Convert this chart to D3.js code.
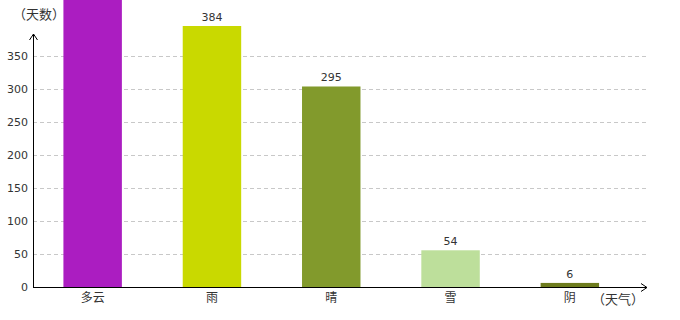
<!DOCTYPE html>
<html><head><meta charset="utf-8">
<script src="https://cdn.jsdelivr.net/npm/d3@7"></script>
<style>body{margin:0;background:#fff}svg{display:block}</style>
</head><body>
<svg id="c" width="680" height="320"></svg>
<script>
const categories = ["多云","雨","晴","雪","阴"];
const values = [480, 384, 295, 54, 6];
const colors = ["#ab1dc1","#c9d900","#829a2c","#bddf9b","#6e7c1e"];
const yTicks = [0,50,100,150,200,250,300,350];
const yTitle = "（天数）";
const xTitle = "（天气）";

const svg = d3.select("#c");
const x0 = 33, x1 = 629.5, y0 = 287;
const x = d3.scaleBand().domain(categories).range([x0, x1]).paddingInner(0.51).paddingOuter(0.255);
const yAxisScale = d3.scaleLinear().domain([0, 350]).range([y0, 56]);
const yBar = d3.scaleLinear().domain([0, 384]).range([y0, 26]);
const font = "'DejaVu Sans', Verdana, sans-serif";
const cjk = "'Noto Sans CJK SC', sans-serif";

// grid
svg.append("g").selectAll("line").data(yTicks.filter(d=>d>0)).join("line")
  .attr("x1", x0).attr("x2", 646)
  .attr("y1", d=>Math.round(yAxisScale(d))+0.5).attr("y2", d=>Math.round(yAxisScale(d))+0.5)
  .attr("stroke","#c8c8c8").attr("stroke-dasharray","4,3");

// y tick labels
svg.append("g").selectAll("text").data(yTicks).join("text")
  .attr("x", 28).attr("y", d=>yAxisScale(d)+4)
  .attr("text-anchor","end").attr("font-family",font).attr("font-size",11).attr("fill","#333")
  .text(d=>d);

// bars
svg.append("g").selectAll("rect").data(values).join("rect")
  .attr("x",(d,i)=>x(categories[i])).attr("width",x.bandwidth())
  .attr("y",d=>yBar(d)).attr("height",d=>y0-yBar(d))
  .attr("fill",(d,i)=>colors[i]);

// value labels (only those that fall inside the view)
svg.append("g").selectAll("text").data(values.map((v,i)=>({v,i})).filter(d=>yBar(d.v)-5>12)).join("text")
  .attr("x",d=>x(categories[d.i])+x.bandwidth()/2).attr("y",d=>yBar(d.v)-5)
  .attr("text-anchor","middle").attr("font-family",font).attr("font-size",11).attr("fill","#333")
  .text(d=>d.v);

// category labels
svg.append("g").selectAll("text").data(categories).join("text")
  .attr("x",d=>x(d)+x.bandwidth()/2).attr("y",302)
  .attr("text-anchor","middle").attr("font-family",cjk).attr("font-size",12).attr("fill","#333")
  .text(d=>d);

// axes
svg.append("line").attr("x1",x0+0.5).attr("x2",x0+0.5).attr("y1",y0).attr("y2",34).attr("stroke","#000");
svg.append("path").attr("d",`M${x0-3.5},${40} L${x0+0.5},${34} L${x0+4.5},${40}`).attr("fill","none").attr("stroke","#000");
svg.append("line").attr("x1",x0).attr("x2",647).attr("y1",y0+0.5).attr("y2",y0+0.5).attr("stroke","#000");
svg.append("path").attr("d",`M641,${y0-3.5} L647,${y0+0.5} L641,${y0+4.5}`).attr("fill","none").attr("stroke","#000");

// titles
svg.append("text").attr("x",13).attr("y",19).attr("font-family",cjk).attr("font-size",13).attr("fill","#333").text(yTitle);
svg.append("text").attr("x",592).attr("y",304).attr("font-family",cjk).attr("font-size",13).attr("fill","#333").text(xTitle);
</script>
</body></html>
